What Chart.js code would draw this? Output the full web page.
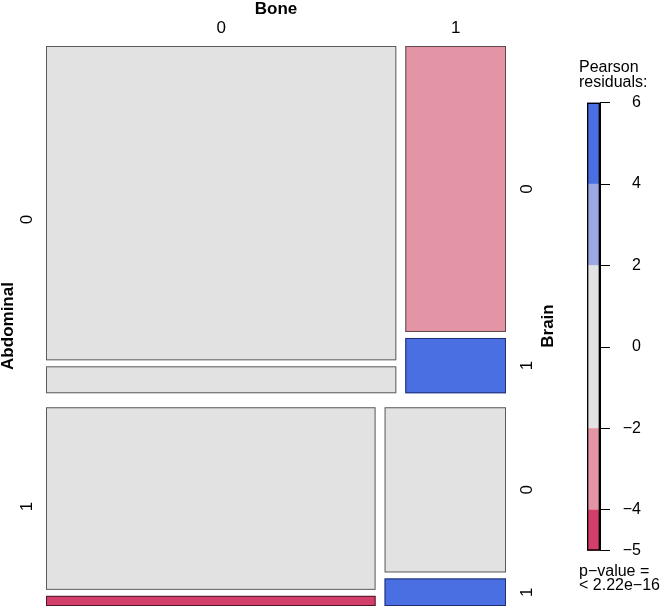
<!DOCTYPE html>
<html>
<head>
<meta charset="utf-8">
<script src="https://cdn.jsdelivr.net/npm/chart.js@4"></script>
<style>
  body { margin: 0; background: #fff; }
  #wrap { position: relative; width: 664px; height: 607px; }
  #mosaic { position: absolute; left: 0; top: 0; }
  #key { position: absolute; left: 579px; top: 50px; }
</style>
</head>
<body>
<div id="wrap">
  <canvas id="mosaic" width="664" height="607"></canvas>
  <canvas id="key" width="85" height="543"></canvas>
</div>
<script>
// factor levels
var abdominal = ["0", "1"];
var bone = ["0", "1"];
var brain = ["0", "1"];

// counts per Abdominal x Bone cell: (A0,B0), (A0,B1), (A1,B0), (A1,B1)
var brain0Counts = [455, 119, 252, 84];
var brain1Counts = [39, 23, 14, 14];

// pearson residuals, same cell order
var brain0Resid = [1.1, -2.9, 0.7, -1.2];
var brain1Resid = [-1.3, 5.3, -4.6, 4.5];

// shading legend
var residBreaks = [-5, -4, -2, 2, 4, 6];
var residColors = ["#D33F6A", "#E495A5", "#E2E2E2", "#9DA8E2", "#4A6FE3"];
var residBorders = ["#4a1a28", "#5e4a4e", "#5c5c5c", "#50557a", "#1f2f70"];
var legendTicks = [-5, -4, -2, 0, 2, 4, 6];

var FONT = "'Liberation Sans', Arial, Helvetica, sans-serif";
Chart.defaults.font.family = FONT;
Chart.defaults.color = "#000";

// gaps between tiles, in axis units (0..1)
var GAP_ABD = 14 / 560;
var GAP_BONE = 9 / 460;
var GAP_BRAIN = 6 / 560;

function shade(r) {
  for (var i = 0; i < residColors.length; i++) {
    if (r < residBreaks[i + 1]) return i;
  }
  return residColors.length - 1;
}

// mosaic layout: rows = Abdominal, columns = Bone, split by Brain
function buildTiles() {
  var counts = [brain0Counts, brain1Counts];
  var resid = [brain0Resid, brain1Resid];
  var total = 0;
  brain0Counts.forEach(function (v, k) { total += v + brain1Counts[k]; });
  var tiles = [], rows = [];
  var y = 0;
  abdominal.forEach(function (a, i) {
    var nA = 0;
    bone.forEach(function (b, j) {
      var k = i * bone.length + j;
      nA += brain0Counts[k] + brain1Counts[k];
    });
    var h = (1 - GAP_ABD * (abdominal.length - 1)) * nA / total;
    rows.push({ y0: y, y1: y + h });
    var x = 0;
    bone.forEach(function (b, j) {
      var k = i * bone.length + j;
      var nAB = brain0Counts[k] + brain1Counts[k];
      var w = (1 - GAP_BONE * (bone.length - 1)) * nAB / nA;
      var yy = y;
      brain.forEach(function (c, l) {
        var hh = (h - GAP_BRAIN * (brain.length - 1)) * counts[l][k] / nAB;
        tiles.push({ a: i, b: j, c: l, x0: x, x1: x + w, y0: yy, y1: yy + hh, r: resid[l][k] });
        yy += hh + GAP_BRAIN;
      });
      x += w + GAP_BONE;
    });
    y += h + GAP_ABD;
  });
  return { tiles: tiles, rows: rows };
}

var mosaic = buildTiles();

var boneTicks = mosaic.tiles.filter(function (t) { return t.a === 0 && t.c === 0; })
  .map(function (t) { return (t.x0 + t.x1) / 2; });
var abdTicks = mosaic.rows.map(function (r) { return (r.y0 + r.y1) / 2; });
var brainTiles = mosaic.tiles.filter(function (t) { return t.b === bone.length - 1; });
var brainTicks = brainTiles.map(function (t) { return (t.y0 + t.y1) / 2; });

function fixSize(prop, v) {
  return function (s) {
    s[prop] = v;
    s.paddingTop = 0; s.paddingBottom = 0; s.paddingLeft = 0; s.paddingRight = 0;
  };
}

var tilePlugin = {
  id: "tiles",
  beforeDatasetsDraw: function (chart) {
    var ctx = chart.ctx, xs = chart.scales.x, ys = chart.scales.y;
    ctx.save();
    ctx.lineWidth = 1;
    mosaic.tiles.forEach(function (t) {
      var px0 = xs.getPixelForValue(t.x0), px1 = xs.getPixelForValue(t.x1);
      var py0 = ys.getPixelForValue(t.y0), py1 = ys.getPixelForValue(t.y1);
      var s = shade(t.r);
      ctx.fillStyle = residColors[s];
      ctx.strokeStyle = residBorders[s];
      ctx.fillRect(px0, py0, px1 - px0, py1 - py0);
      ctx.strokeRect(px0 + 0.5, py0 + 0.5, px1 - px0 - 1, py1 - py0 - 1);
    });
    ctx.restore();
  },
  afterDraw: function (chart) {
    // "Brain" variable name on the right, reads bottom to top
    var ctx = chart.ctx, ys = chart.scales.y2;
    ctx.save();
    ctx.translate(ys.right + 8, (ys.top + ys.bottom) / 2);
    ctx.rotate(-Math.PI / 2);
    ctx.font = "bold 17px " + FONT;
    ctx.fillStyle = "#000";
    ctx.textAlign = "center";
    ctx.textBaseline = "middle";
    ctx.fillText("Brain", 0, 0);
    ctx.restore();
  }
};

var tickFont = { size: 17 };
var titleFont = { size: 17, weight: "bold", lineHeight: 1 };
var noGrid = { display: false, drawTicks: false };

new Chart(document.getElementById("mosaic"), {
  type: "scatter",
  data: { datasets: [] },
  options: {
    responsive: false,
    animation: false,
    devicePixelRatio: 1,
    layout: { padding: { left: 0, top: 0, right: 124, bottom: 1 } },
    plugins: { legend: { display: false }, tooltip: { enabled: false } },
    scales: {
      x: {
        type: "linear", position: "top", min: 0, max: 1,
        grid: noGrid, border: { display: false },
        ticks: {
          font: tickFont, padding: 7, autoSkip: false, maxRotation: 0,
          callback: function (v, i) { return bone[i]; }
        },
        title: { display: true, text: "Bone", font: titleFont, padding: { top: 1, bottom: 0 } },
        afterBuildTicks: function (s) { s.ticks = boneTicks.map(function (v) { return { value: v }; }); },
        afterFit: fixSize("height", 46)
      },
      y: {
        type: "linear", position: "left", min: 0, max: 1, reverse: true,
        grid: noGrid, border: { display: false },
        ticks: {
          font: tickFont, padding: 14, autoSkip: false, crossAlign: "center",
          minRotation: 90, maxRotation: 90,
          callback: function (v, i) { return abdominal[i]; }
        },
        title: { display: true, text: "Abdominal", font: titleFont, padding: { top: 0, bottom: 0 } },
        afterBuildTicks: function (s) { s.ticks = abdTicks.map(function (v) { return { value: v }; }); },
        afterFit: fixSize("width", 46)
      },
      y2: {
        type: "linear", position: "right", min: 0, max: 1, reverse: true,
        grid: noGrid, border: { display: false },
        ticks: {
          font: tickFont, padding: 17, autoSkip: false, crossAlign: "center",
          minRotation: 90, maxRotation: 90,
          callback: function (v, i) { return brain[brainTiles[i].c]; }
        },
        afterBuildTicks: function (s) { s.ticks = brainTicks.map(function (v) { return { value: v }; }); },
        afterFit: fixSize("width", 34)
      }
    }
  },
  plugins: [tilePlugin]
});

// shading legend as a floating bar
var keySets = [{
  data: [[residBreaks[0], residBreaks[residBreaks.length - 1]]],
  backgroundColor: "rgba(0,0,0,0)", borderColor: "#000", borderWidth: 1, borderSkipped: false
}];
residColors.forEach(function (c, i) {
  keySets.push({ data: [[residBreaks[i], residBreaks[i + 1]]], backgroundColor: c, borderWidth: 0 });
});

new Chart(document.getElementById("key"), {
  type: "bar",
  data: { labels: ["r"], datasets: keySets },
  options: {
    responsive: false,
    animation: false,
    devicePixelRatio: 1,
    grouped: false,
    barPercentage: 1,
    categoryPercentage: 1,
    layout: { padding: 0 },
    plugins: {
      legend: { display: false },
      tooltip: { enabled: false },
      title: {
        display: true, text: ["Pearson", "residuals:"], align: "start", color: "#000",
        font: { size: 16, weight: "normal", lineHeight: 0.94 }, padding: { top: 10.5, bottom: 12 }
      },
      subtitle: {
        display: true, position: "bottom", text: ["p\u2212value =", "< 2.22e\u221216"], align: "start", color: "#000",
        font: { size: 16, weight: "normal", lineHeight: 0.875 }, padding: { top: 14.3, bottom: 0 }
      }
    },
    scales: {
      x: { type: "category", display: false },
      y: {
        type: "linear", position: "right", min: -5, max: 6, weight: 0,
        grid: { display: true, drawOnChartArea: false, drawTicks: true, tickLength: 10, color: "#000" },
        border: { display: true, color: "#000" },
        ticks: {
          font: { size: 16 }, crossAlign: "far", autoSkip: false,
          callback: function (v) { return String(v).replace("-", "\u2212"); }
        },
        afterBuildTicks: function (s) { s.ticks = legendTicks.map(function (v) { return { value: v }; }); },
        afterFit: fixSize("width", 41)
      },
      gap: {
        type: "linear", position: "right", display: true, weight: 1,
        ticks: { display: false }, grid: { display: false }, border: { display: false },
        afterFit: fixSize("width", 23)
      },
      pad: {
        type: "linear", position: "left", display: true,
        ticks: { display: false }, grid: { display: false }, border: { display: false },
        afterFit: fixSize("width", 8)
      }
    }
  }
});
</script>
</body>
</html>
